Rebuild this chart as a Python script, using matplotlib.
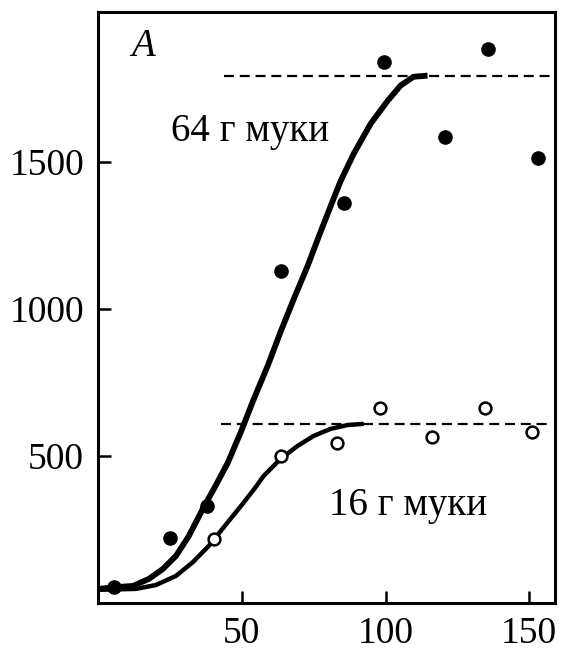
import numpy as np
import matplotlib
matplotlib.use('Agg')
from matplotlib import pyplot as plt

# measured points, 64 g flour (filled) and 16 g flour (open)
x_64 = [5.6, 25.0, 37.8, 63.5, 85.4, 99.3, 120.8, 135.8, 153.0]
y_64 = [54, 221, 330, 1129, 1360, 1840, 1585, 1884, 1514]
x_16 = [40.3, 63.6, 83.2, 97.9, 116.3, 134.7, 151.0]
y_16 = [218, 500, 544, 663, 565, 663, 582]

# fitted curves
curve_64_x = [0.3, 6.3, 12.2, 17.7, 22.6, 27.1, 31.6, 36.8, 40.3, 45.1,
              49.7, 54.2, 59.0, 63.5, 68.1, 72.9, 77.4, 81.9, 84.4, 88.9,
              94.8, 100.7, 105.2, 109.7, 114.6]
curve_64_y = [48, 54, 58, 82, 116, 160, 228, 327, 388, 476,
              582, 694, 806, 922, 1034, 1146, 1262, 1374, 1435, 1527,
              1629, 1707, 1759, 1789, 1793]
curve_16_x = [0.3, 6.0, 13.2, 20.1, 27.1, 33.0, 38.5, 45.5, 50.3, 54.9,
              57.6, 63.5, 69.4, 75.0, 80.9, 86.8, 92.4]
curve_16_y = [45, 46, 48, 61, 92, 139, 194, 279, 337, 395,
              432, 490, 534, 568, 592, 605, 609]

# plateau levels
plateau_64 = 1793
plateau_16 = 609

xticks = [50, 100, 150]
yticks = [500, 1000, 1500]

plt.rcParams['font.family'] = ['Liberation Serif', 'DejaVu Serif']

fig = plt.figure(figsize=(5.7, 6.54), dpi=100)
ax = fig.add_axes([0.172, 0.078, 0.802, 0.904])

ax.plot(curve_64_x, curve_64_y, color='black', lw=4.2,
        solid_capstyle='butt', solid_joinstyle='round')
ax.plot(curve_16_x, curve_16_y, color='black', lw=3.2,
        solid_capstyle='butt', solid_joinstyle='round')

ax.plot([43.8, 159], [plateau_64, plateau_64], color='black', lw=1.6,
        dashes=(4.5, 2.6))
ax.plot([42.7, 156.6], [plateau_16, plateau_16], color='black', lw=1.6,
        dashes=(4.5, 2.6))

ax.plot(x_64, y_64, 'o', color='black', markersize=9.5, zorder=5)
ax.plot(x_16, y_16, 'o', markerfacecolor='white', markeredgecolor='black',
        markeredgewidth=1.8, markersize=8.5, zorder=5)

ax.text(11.5, 1891, 'A', fontsize=28, style='italic', va='center', ha='left')
ax.text(25.3, 1602, '64 г муки', fontsize=28, va='center', ha='left')
ax.text(80.2, 330, '16 г муки', fontsize=28, va='center', ha='left')

ax.set_xlim(0, 159)
ax.set_ylim(0, 2010)
ax.set_xticks(xticks)
ax.set_yticks(yticks)
ax.tick_params(direction='in', length=9, width=1.8, labelsize=27, pad=10)
for s in ax.spines.values():
    s.set_linewidth(2.2)

fig.savefig('out.png', dpi=100)
